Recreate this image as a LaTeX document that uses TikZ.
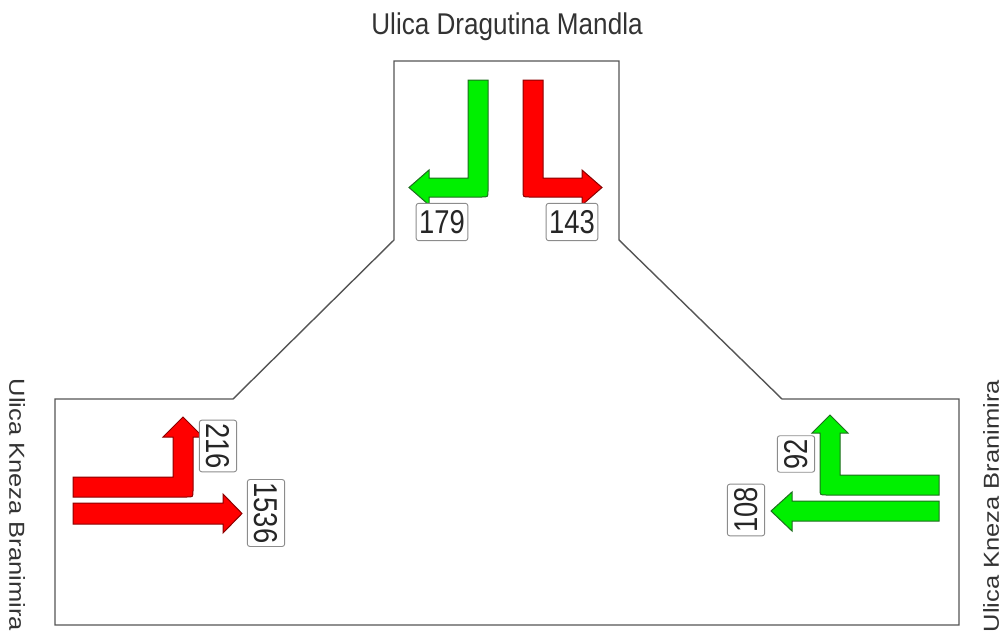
\documentclass[tikz,border=0pt]{standalone}
\usepackage{graphicx}
\usepackage{fontspec}
\setmainfont{Liberation Sans}
\newfontfamily\countfont{Liberation Sans}[FakeStretch=0.83]
\newfontfamily\streetfont{Liberation Sans}[FakeStretch=0.87]
\definecolor{roadline}{HTML}{555555}
\definecolor{redfill}{HTML}{FF0000}
\definecolor{redline}{HTML}{8A0000}
\definecolor{greenfill}{HTML}{00F000}
\definecolor{greenline}{HTML}{1E6E1E}
\definecolor{boxline}{HTML}{8C8C8C}
\newcommand{\sidename}[1]{\scalebox{1}[0.85]{\fontsize{25.5}{25.5}\selectfont #1}}
\begin{document}
\begin{tikzpicture}[x=1pt,y=-1pt,
  road/.style={draw=roadline,line width=1.4pt,line join=miter},
  redarrow/.style={fill=redfill,draw=redline,line width=1pt,line join=miter},
  greenarrow/.style={fill=greenfill,draw=greenline,line width=1pt,line join=miter},
  countbox/.style={draw=boxline,line width=0.9pt,fill=white,rounded corners=2.5pt,
    inner xsep=3pt,inner ysep=7pt,font=\countfont\fontsize{33}{33}\selectfont,text=black!85},
  street/.style={font=\streetfont\fontsize{30}{30}\selectfont,text=black!80,inner sep=0pt},
  sidestreet/.style={text=black!80,inner sep=0pt}]
\useasboundingbox (0,0) rectangle (1006,642);
% road outline
\draw[road] (394,240) -- (394,61) -- (619,61) -- (619,240) -- (782,399) -- (959,399)
  -- (959,625) -- (55,625) -- (55,399) -- (233,399) -- cycle;
% top green (left turn)
\draw[greenarrow] (468,80) -- (488,80) -- (488,191) .. controls (488,197) .. (482,197)
  -- (429,197) -- (429,205) -- (409,187.5) -- (429,170) -- (429,178) -- (468,178) -- cycle;
% top red (right turn)
\draw[redarrow] (523,80) -- (543,80) -- (543,178) -- (582,178) -- (582,170) -- (602,187.5)
  -- (582,205) -- (582,197) -- (529,197) .. controls (523,197) .. (523,191) -- cycle;
% left upper red (left turn, up)
\draw[redarrow] (73,477) -- (173,477) -- (173,437) -- (163,437) -- (183,417) -- (203,437)
  -- (193,437) -- (193,491) .. controls (193,497) .. (187,497) -- (73,497) -- cycle;
% left lower red (straight)
\draw[redarrow] (73,503) -- (223,503) -- (223,494) -- (242,513.5) -- (223,533) -- (223,524)
  -- (73,524) -- cycle;
% right upper green (right turn, up)
\draw[greenarrow] (939,475) -- (840,475) -- (840,433) -- (848,433) -- (830,415) -- (812,433)
  -- (820,433) -- (820,489) .. controls (820,495) .. (826,495) -- (939,495) -- cycle;
% right lower green (straight)
\draw[greenarrow] (939,501) -- (792,501) -- (792,492) -- (771,511) -- (792,531) -- (792,521)
  -- (939,521) -- cycle;
% counts
\node[countbox] (c179) at (442,222) {179};
\node[countbox] (c143) at (572,222) {143};
\node[countbox,rotate=-90] (c216) at (218,446) {216};
\node[countbox,rotate=-90] (c1536) at (266,513) {1536};
\node[countbox,rotate=90] (c92) at (796,454) {92};
\node[countbox,rotate=90] (c108) at (746,510) {108};
% street names
\node[street] (top) at (507,27) {Ulica Dragutina Mandla};
\node[sidestreet,rotate=-90] (left) at (17,505) {\sidename{Ulica Kneza Branimira}};
\node[sidestreet,rotate=90] (right) at (991,506) {\sidename{Ulica Kneza Branimira}};
\end{tikzpicture}
\end{document}
